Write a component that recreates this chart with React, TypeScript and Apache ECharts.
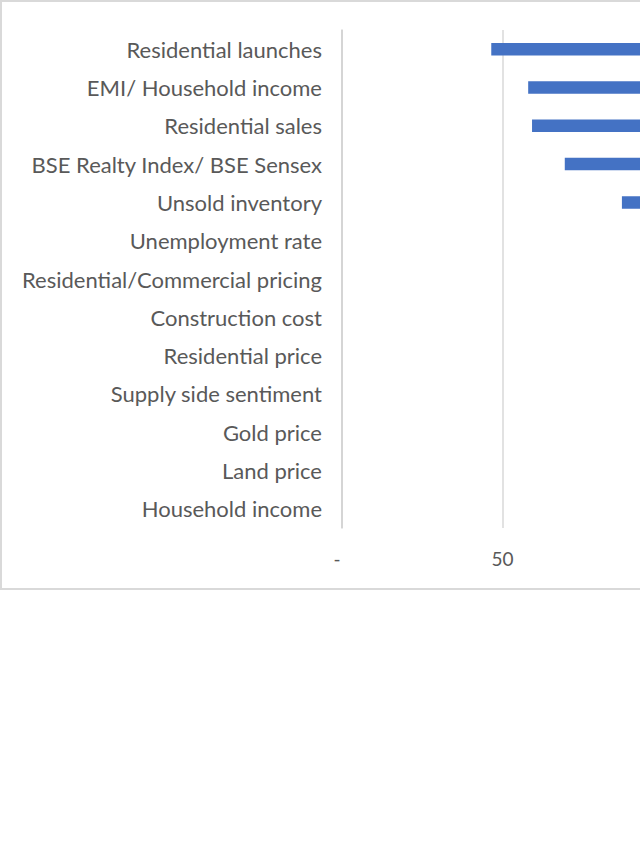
import React, { useEffect, useRef } from "react";
import * as echarts from "echarts";

const categories = [
  "Residential launches",
  "EMI/ Household income",
  "Residential sales",
  "BSE Realty Index/ BSE Sensex",
  "Unsold inventory",
  "Unemployment rate",
  "Residential/Commercial pricing",
  "Construction cost",
  "Residential price",
  "Supply side sentiment",
  "Gold price",
  "Land price",
  "Household income",
];
// index values (base = 100); bars run from the value to 100
const indexValues = [46.5, 58, 59.2, 69.4, 87.2, 101, 104, 112, 118, 125, 140, 150, 160];
const baseLevel = 100;
const xTicks = [0, 50, 100, 150, 200];
const visibleTickMax = 50;

export default function App() {
  const ref = useRef<HTMLDivElement>(null);
  useEffect(() => {
    if (!ref.current) return;
    const chart = echarts.init(ref.current, null, { renderer: "svg" });
    const baseData = indexValues.map((v) => Math.min(v, baseLevel));
    const deltaData = indexValues.map((v) => Math.abs(v - baseLevel));
    chart.setOption({
      animation: false,
      backgroundColor: "#ffffff",
      textStyle: { fontFamily: "Lato" },
      grid: { left: 340, top: 28, width: 642, height: 498, containLabel: false },
      xAxis: {
        type: "value",
        min: xTicks[0],
        max: xTicks[xTicks.length - 1],
        interval: 50,
        axisLine: { show: false },
        axisTick: { show: false },
        splitLine: { show: true, lineStyle: { color: "#d9d9d9", width: 1.5 } },
        axisLabel: {
          color: "#595959",
          fontSize: 19,
          margin: 21,
          formatter: (v: number) => (v === 0 ? "{d|-}" : v > visibleTickMax ? "" : String(v)),
          rich: { d: { fontSize: 19, color: "#595959", padding: [0, 10, 0, 0] } },
        },
      },
      yAxis: {
        type: "category",
        data: categories,
        inverse: true,
        axisLine: { show: true, lineStyle: { color: "#d0d0d0", width: 1.5 } },
        axisTick: { show: false },
        axisLabel: { color: "#595959", fontSize: 22, margin: 20, padding: [0, 0, 2, 0] },
      },
      series: [
        {
          type: "bar",
          stack: "s",
          data: baseData,
          barWidth: 12.5,
          itemStyle: { color: "rgba(0,0,0,0)" },
          silent: true,
        },
        {
          type: "bar",
          stack: "s",
          data: deltaData,
          barWidth: 12.5,
          itemStyle: { color: "#4472C4" },
        },
      ],
    });
    return () => chart.dispose();
  }, []);
  return (
    <div style={{ position: "absolute", left: 0, top: 0, width: 640, height: 853, overflow: "hidden", background: "#fff" }}>
      <div style={{ width: 1100, height: 590, border: "2px solid #d9d9d9", boxSizing: "border-box" }}>
        <div ref={ref} style={{ width: 1096, height: 586 }} />
      </div>
    </div>
  );
}
